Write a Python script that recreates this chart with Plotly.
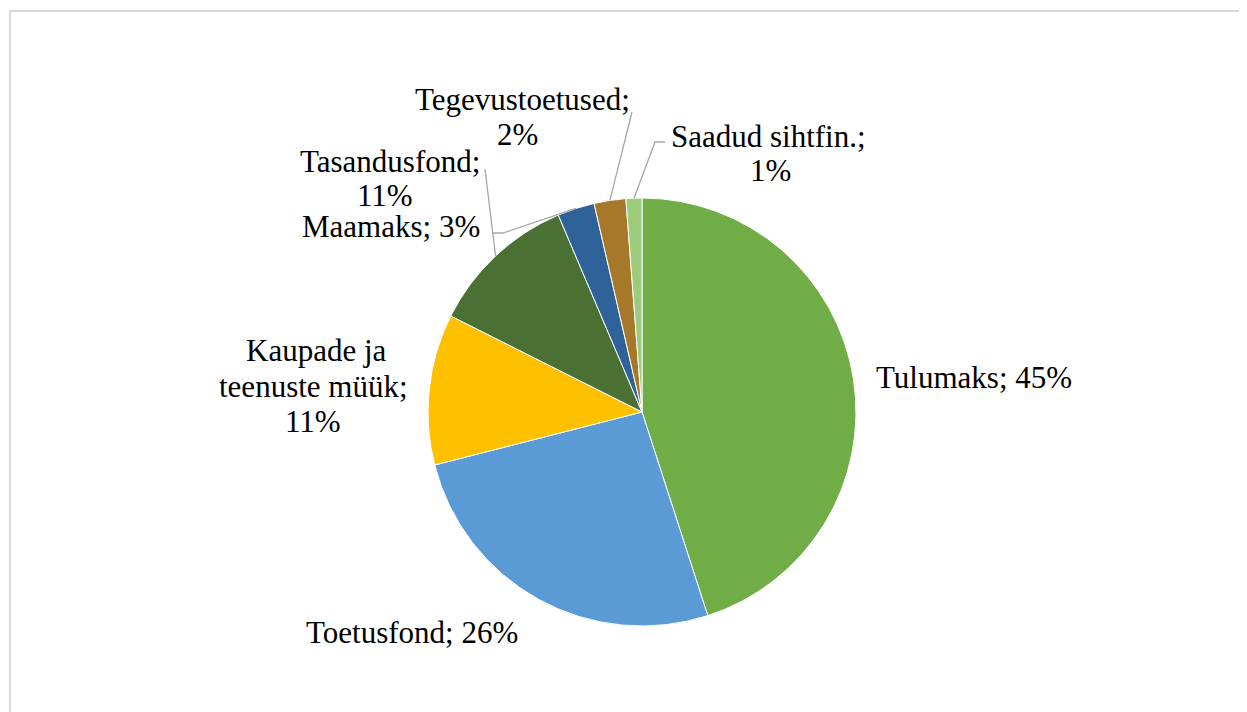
import math
import plotly.graph_objects as go

# ---- data ----
categories = ["Tulumaks", "Toetusfond", "Kaupade ja teenuste müük", "Tasandusfond",
              "Maamaks", "Tegevustoetused", "Saadud sihtfin."]
values = [45.05, 26.0, 11.4, 11.2, 2.8, 2.4, 1.2]
pct_labels = ["45%", "26%", "11%", "11%", "3%", "2%", "1%"]
colors = ["#70AD47", "#5B9BD5", "#FFC000", "#4B7034", "#2E6299", "#A8782A", "#9CCB7D"]

W, H = 1247, 712
OFF = 8                     # page body margin
CX, CY, R = 642, 412, 214   # pie centre / radius in page pixels

def px(x):
    return (x - OFF) / W

def py(y):
    return 1 - (y - OFF) / H

fig = go.Figure(go.Pie(
    labels=categories, values=values, sort=False, direction="clockwise", rotation=0,
    marker=dict(colors=colors, line=dict(color="white", width=1)),
    textinfo="none", hoverinfo="label+percent", showlegend=False,
    domain=dict(x=[px(CX - R), px(CX + R)], y=[py(CY + R), py(CY - R)]),
))

# slice mid-angle edge points (computed from data)
total = sum(values)
cum = 0
edge = []
for v in values:
    mid = (cum + v / 2) / total * 2 * math.pi
    edge.append((CX + R * math.sin(mid), CY - R * math.cos(mid)))
    cum += v

FONT = dict(family="Liberation Serif", size=31, color="#000000")

# label lines: (text, x_center_px, y_center_px)
label_lines = [
    (f"{categories[0]}; {pct_labels[0]}", 974, 377),
    (f"{categories[1]}; {pct_labels[1]}", 412, 632),
    ("Kaupade ja", 316, 351),
    ("teenuste müük;", 313, 386),
    (pct_labels[2], 313, 421),
    (f"{categories[3]};", 390, 161),
    (pct_labels[3], 385, 196),
    (f"{categories[4]}; {pct_labels[4]}", 391, 226),
    (f"{categories[5]};", 522, 100),
    (pct_labels[5], 517, 135),
    (f"{categories[6]};", 768, 136),
    (pct_labels[6], 770, 171),
]
annotations = [dict(text=t, x=px(x), y=py(y), xref="paper", yref="paper",
                    showarrow=False, font=FONT, xanchor="center", yanchor="middle")
               for t, x, y in label_lines]

# leader lines: label-side points, ending at slice edge midpoint
leaders = {
    3: [(485, 169)],
    4: [(492, 233), (503, 233)],
    5: [(632, 112)],
    6: [(665, 142), (655, 142)],
}
shapes = []
for idx, pts in leaders.items():
    allpts = pts + [edge[idx]]
    path = "M " + " L ".join(f"{px(x)},{py(y)}" for x, y in allpts)
    shapes.append(dict(type="path", path=path, xref="paper", yref="paper",
                       line=dict(color="#A6A6A6", width=1.3)))

# chart border
shapes.append(dict(type="rect", xref="paper", yref="paper",
                   x0=px(10), y0=py(H + 20), x1=px(W + 20), y1=py(11),
                   line=dict(color="#D9D9D9", width=2)))

fig.update_layout(
    width=W, height=H, margin=dict(l=0, r=0, t=0, b=0),
    paper_bgcolor="white", plot_bgcolor="white",
    annotations=annotations, shapes=shapes,
)
fig.write_html("out.html")
